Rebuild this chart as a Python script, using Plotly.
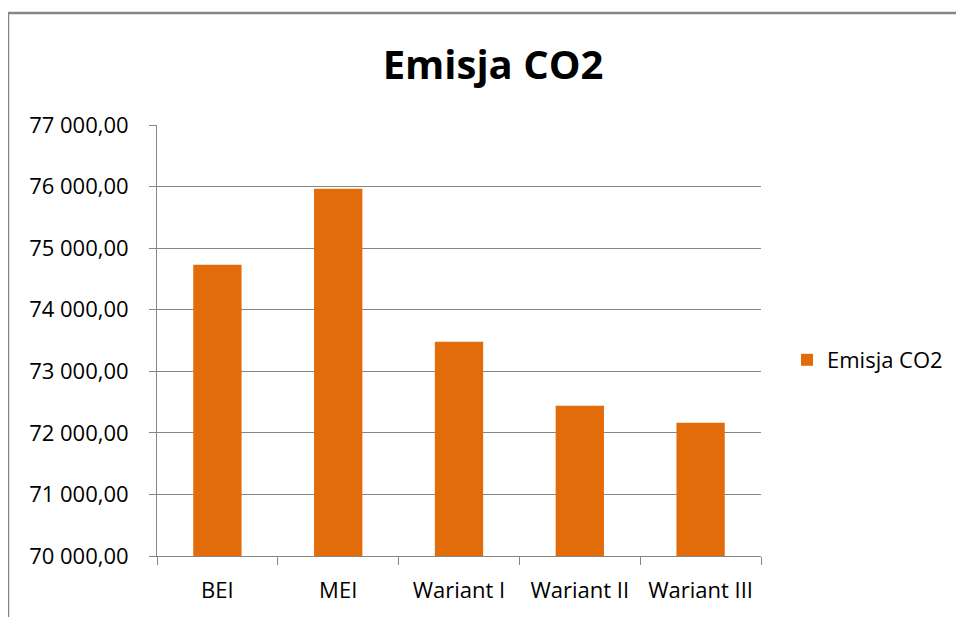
import plotly.graph_objects as go

categories = ['BEI', 'MEI', 'Wariant I', 'Wariant II', 'Wariant III']
emisja_co2 = [74730, 75965, 73480, 72440, 72165]
series_name = 'Emisja CO2'

ORANGE = '#E36C0A'
GREY = '#868686'
FONT = 'Open Sans'

fig = go.Figure()
fig.add_trace(go.Bar(x=categories, y=emisja_co2, name=series_name,
                     marker=dict(color=ORANGE, line=dict(width=0)),
                     showlegend=True))

# the page body adds ~8px / 7px offset, so margins are set in figure coords
L, R, T, B = 149, 211, 117, 69
W, H = 964, 617
pw, ph = W - L - R, H - T - B
def px(x): return (x - L) / pw
def py(y): return (H - B - y) / ph

# page frame (left + top edges, as in the original screenshot)
fig.add_shape(type='line', xref='paper', yref='paper', x0=px(0), x1=px(980), y0=py(5), y1=py(5),
              line=dict(color=GREY, width=2.5))
fig.add_shape(type='line', xref='paper', yref='paper', x0=px(0), x1=px(0), y0=py(5), y1=py(640),
              line=dict(color=GREY, width=2.5))

fig.update_layout(
    width=W, height=H,
    margin=dict(l=L, r=R, t=T, b=B, pad=0),
    paper_bgcolor='white', plot_bgcolor='white',
    separators=', ',
    font=dict(family=FONT, size=22, color='#000000'),
    title=dict(text='<b>Emisja CO2</b>', x=485 / W, xanchor='center', xref='container',
               y=1 - 57 / H, yanchor='middle', font=dict(family=FONT, size=40, color='#000000')),
    bargap=0.6,
    showlegend=True,
    legend=dict(x=px(779), y=py(352), xanchor='left', yanchor='middle',
                font=dict(family=FONT, size=22), itemwidth=30, bgcolor='rgba(0,0,0,0)'),
    xaxis=dict(type='category', showline=True, linecolor=GREY, linewidth=1,
               ticks='outside', tickson='boundaries', ticklen=8, tickcolor=GREY,
               ticklabelstandoff=15,
               showgrid=False, tickfont=dict(family=FONT, size=22)),
    yaxis=dict(range=[70000, 77000], dtick=1000, tickformat=',.2f',
               showline=True, linecolor=GREY, linewidth=1,
               ticks='outside', ticklen=7, tickcolor=GREY, ticklabelstandoff=16,
               showgrid=True, gridcolor=GREY, gridwidth=1, zeroline=False,
               tickfont=dict(family=FONT, size=22)),
)

fig.write_html('out.html')
